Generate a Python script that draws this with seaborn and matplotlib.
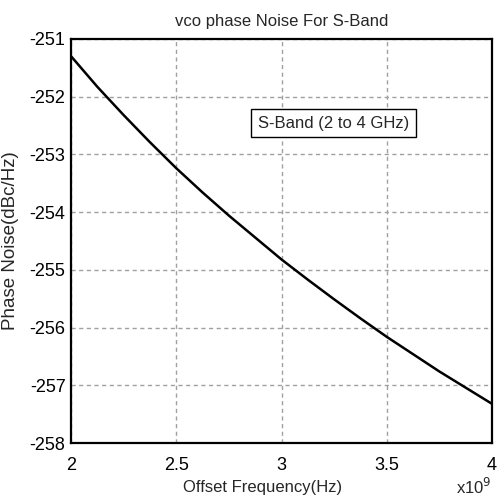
import pandas as pd
import matplotlib.pyplot as plt
import seaborn as sns

# (x in units of 1e9 Hz)
offset_freq = [2.0, 2.125, 2.25, 2.375, 2.5, 2.625, 2.75, 2.875, 3.0,
               3.125, 3.25, 3.375, 3.5, 3.625, 3.75, 3.875, 4.0]
phase_noise = [-251.30, -251.83, -252.32, -252.79, -253.24, -253.66, -254.06, -254.44, -254.82,
               -255.17, -255.51, -255.84, -256.16, -256.46, -256.76, -257.04, -257.32]
x_ticks = [2, 2.5, 3, 3.5, 4]
x_tick_labels = ["2", "2.5", "3", "3.5", "4"]
y_ticks = [-258, -257, -256, -255, -254, -253, -252, -251]

df = pd.DataFrame({"freq": offset_freq, "noise": phase_noise})

sns.set_style("white")
plt.rcParams["font.family"] = ["Liberation Sans", "DejaVu Sans"]
plt.rcParams["axes.unicode_minus"] = False

fig = plt.figure(figsize=(4.97, 4.99), dpi=100)
ax = fig.add_axes([0.143, 0.112, 0.847, 0.81])

sns.lineplot(data=df, x="freq", y="noise", color="black", linewidth=1.8, ax=ax)

ax.set_xlim(2, 4)
ax.set_ylim(-258, -251)
ax.set_xticks(x_ticks)
ax.set_xticklabels(x_tick_labels)
ax.set_yticks(y_ticks)
ax.tick_params(axis="both", labelsize=13, length=0, colors="black")
ax.tick_params(axis="x", pad=10)
ax.tick_params(axis="y", pad=4)
ax.grid(True, linestyle=(0, (3, 2.5)), color="#a0a0a0", linewidth=1.0)

for s in ax.spines.values():
    s.set_color("black")
    s.set_linewidth(1.6)

ax.set_title("vco phase Noise For S-Band", fontsize=12, pad=9)
ax.set_xlabel("Offset Frequency(Hz)", fontsize=12)
ax.xaxis.set_label_coords(0.454, -0.092)
ax.set_ylabel("Phase Noise(dBc/Hz)", fontsize=13.5)
ax.yaxis.set_label_coords(-0.124, 0.5)

ax.text(1.0, -0.108, "x10$^9$", transform=ax.transAxes, ha="right", va="center", fontsize=12)

ax.text(3.246, -252.46, "S-Band (2 to 4 GHz)", ha="center", va="center", fontsize=12,
        bbox=dict(boxstyle="square,pad=0.4", facecolor="white", edgecolor="black", linewidth=1.0))

plt.savefig("out.png", dpi=100)
plt.close()
